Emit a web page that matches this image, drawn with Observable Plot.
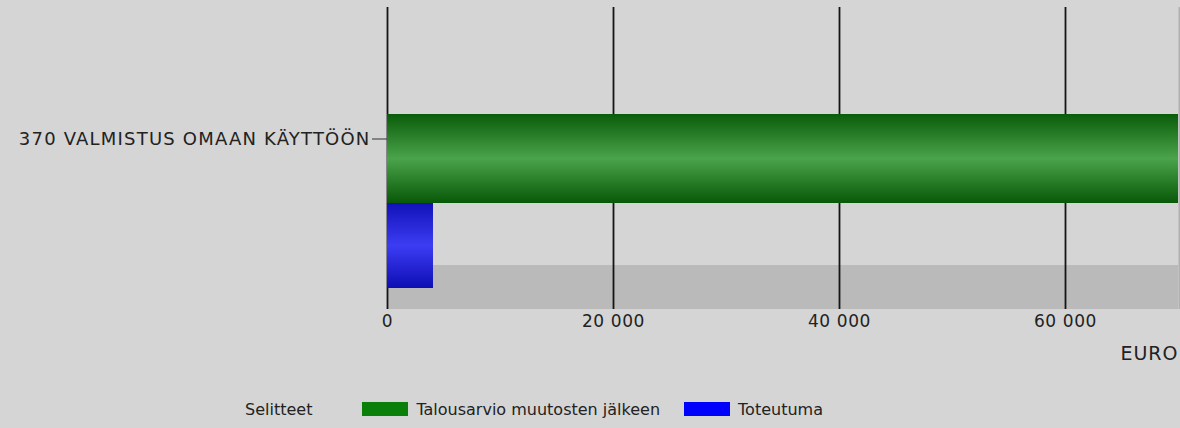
<!DOCTYPE html>
<html><head><meta charset="utf-8">
<script src="https://cdn.jsdelivr.net/npm/d3@7"></script>
<script src="https://cdn.jsdelivr.net/npm/@observablehq/plot@0.6"></script>
<style>
body{margin:0;background:#d5d5d5;font-family:"DejaVu Sans",sans-serif;}
#chart svg{display:block;background:#d5d5d5}
#legend{height:38px;display:flex;align-items:center;padding-left:245px;font-size:16px;color:#222}
.sw{display:inline-block;width:46px;height:14px;margin:0 8px 0 0}
.gap1{display:inline-block;width:50px}
.gap2{display:inline-block;width:24px}
</style></head><body>
<div id="chart"></div><div id="legend"></div>
<script>
const categories = ["370 VALMISTUS OMAAN KÄYTTÖÖN"];
const seriesNames = ["Talousarvio muutosten jälkeen", "Toteutuma"];
const budget = [70000];
const actual = [4070];
const xTicks = [0, 20000, 40000, 60000];
const xMax = 70000;
const unitLabel = "EURO";
const legendTitle = "Selitteet";
const seriesColors = ["#0a7f0a", "#0000ff"];

const rows = categories.flatMap((c, i) => [
  {category: c, series: seriesNames[0], value: budget[i]},
  {category: c, series: seriesNames[1], value: actual[i]}
]);
const fmt = d => d3.format(",")(d).replace(/,/g, " ");

function defsMark() {
  const defs = d3.create("svg:defs");
  const grad = (id, stops) => {
    const g = defs.append("linearGradient").attr("id", id)
      .attr("x1", 0).attr("y1", 0).attr("x2", 0).attr("y2", 1);
    stops.forEach(([o, c]) => g.append("stop").attr("offset", o).attr("stop-color", c));
  };
  grad("gGreen", [[0, "#0a5c0a"], [0.5, "#4aa44a"], [1, "#085808"]]);
  grad("gBlue", [[0, "#1212b8"], [0.5, "#3c3cf4"], [1, "#0e0eb4"]]);
  return defs.node();
}

const chart = Plot.plot({
  width: 1180, height: 390,
  marginLeft: 387, marginRight: 2, marginTop: 7, marginBottom: 81,
  style: {background: "#d5d5d5", fontFamily: "DejaVu Sans", fontSize: "17px", color: "#222"},
  x: {domain: [0, xMax], axis: null},
  y: {domain: seriesNames, range: [114, 292], padding: 0, axis: null},
  marks: [
    defsMark,
    Plot.barX(categories, {x1: 0, x2: xMax, y: () => seriesNames[1], fill: "#bababa", insetTop: 62, insetBottom: -17}),
    Plot.ruleX(xTicks, {stroke: "#151515", strokeWidth: 1.8}),
    Plot.ruleX([xMax], {stroke: "#b0b0b0", strokeWidth: 2, dx: 1}),
    Plot.barX(rows.filter(d => d.series === seriesNames[0]), {x: "value", y: "series", fill: "url(#gGreen)"}),
    Plot.barX(rows.filter(d => d.series === seriesNames[1]), {x: "value", y: "series", fill: "url(#gBlue)", insetBottom: 4}),
    Plot.axisX(xTicks, {tickSize: 0, tickPadding: 5, tickFormat: fmt, label: null, fontSize: 17}),
    Plot.axisY({ticks: [seriesNames[0]], tickFormat: () => categories[0], tickSize: 15, tickPadding: 2, dy: -20, label: null, fontSize: 18, stroke: "#333"}),
    Plot.text([unitLabel], {frameAnchor: "bottom-right", dy: 50, text: d => d, fontSize: 19})
  ]
});
const sel = d3.select(chart);
sel.selectAll("text").filter(function () { return this.textContent === categories[0]; }).attr("letter-spacing", "1.2px");
sel.selectAll("text").filter(function () { return this.textContent === unitLabel; }).attr("letter-spacing", "1px");
sel.selectAll("text").filter(function () { return /^[0-9 ]+$/.test(this.textContent); }).attr("letter-spacing", "0.6px");
document.getElementById("chart").append(chart);

const legend = document.getElementById("legend");
const t = document.createElement("span"); t.textContent = legendTitle; legend.append(t);
seriesNames.forEach((s, i) => {
  const g = document.createElement("span"); g.className = i === 0 ? "gap1" : "gap2";
  const sw = document.createElement("span"); sw.className = "sw"; sw.style.background = seriesColors[i];
  const lb = document.createElement("span"); lb.textContent = s;
  legend.append(g, sw, lb);
});
</script>
</body></html>
